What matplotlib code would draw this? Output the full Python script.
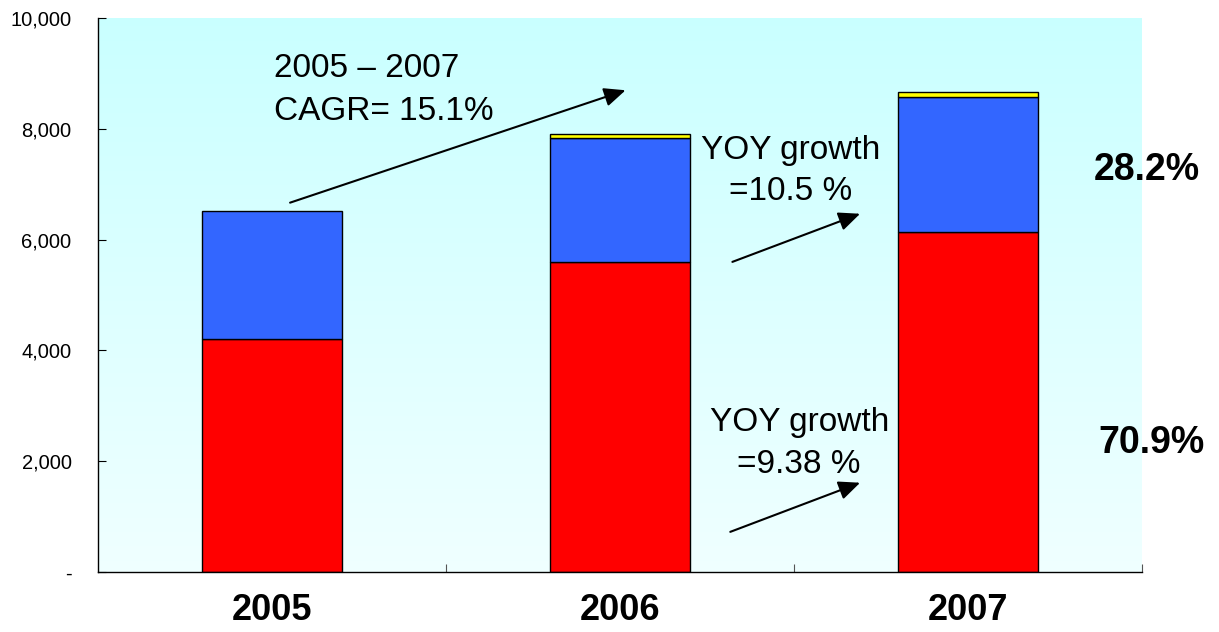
import matplotlib
matplotlib.use('Agg')
import matplotlib.pyplot as plt
import numpy as np
from matplotlib.ticker import FuncFormatter

plt.rcParams['font.family'] = ['Liberation Sans', 'DejaVu Sans']

years = ['2005', '2006', '2007']
red_vals = [4200, 5600, 6140]
blue_vals = [2320, 2240, 2440]
yellow_vals = [0, 60, 90]

cagr_text = '2005 \u2013 2007\nCAGR= 15.1%'
yoy_top_text = 'YOY growth\n=10.5 %'
yoy_bottom_text = 'YOY growth\n=9.38 %'
share_labels = ['28.2%', '70.9%']

fig = plt.figure(figsize=(12.19, 6.32), dpi=100)
ax = fig.add_axes([0.0804, 0.0949, 0.8564, 0.8766])

# light cyan gradient background
grad = np.linspace(0, 1, 256).reshape(-1, 1)
top_col = np.array([0.79, 1.0, 1.0])
bot_col = np.array([0.94, 1.0, 1.0])
img = top_col + (bot_col - top_col) * grad
ax.imshow(img[:, None, :].repeat(2, axis=1), extent=[0, 1, 0, 1],
          transform=ax.transAxes, aspect='auto', zorder=0)

x = np.arange(len(years))
w = 0.40
red = np.array(red_vals)
blue = np.array(blue_vals)
yellow = np.array(yellow_vals)
ax.bar(x, red, w, color='#FF0000', edgecolor='black', linewidth=1, zorder=2)
ax.bar(x, blue, w, bottom=red, color='#3366FF', edgecolor='black', linewidth=1, zorder=2)
ax.bar(x[yellow > 0], yellow[yellow > 0], w, bottom=(red + blue)[yellow > 0],
       color='#FFFF00', edgecolor='black', linewidth=1, zorder=2)

ax.set_xlim(-0.5, 2.5)
ax.set_ylim(0, 10000)
ax.set_yticks(range(0, 10001, 2000))
ax.yaxis.set_major_formatter(FuncFormatter(lambda v, p: '-' if v == 0 else f'{int(v):,}'))
ax.tick_params(axis='y', direction='in', length=6, width=0.8, pad=19, labelsize=14.5)

ax.set_xticks(x)
ax.set_xticklabels(years, fontsize=26, fontweight='bold')
ax.set_xticks([0.5, 1.5, 2.5], minor=True)
ax.tick_params(axis='x', which='major', length=0, pad=15)
ax.tick_params(axis='x', which='minor', direction='in', length=6, width=0.8, color='#555555')

for s in ['top', 'right']:
    ax.spines[s].set_visible(False)
for s in ['left', 'bottom']:
    ax.spines[s].set_linewidth(1)

arrow = dict(arrowstyle='-|>,head_length=0.5,head_width=0.22', color='black', lw=1.5,
             mutation_scale=26, shrinkA=0, shrinkB=0)

ax.text(0.006, 8700, cagr_text, ha='left', va='center', fontsize=24, linespacing=1.5, zorder=5)
ax.annotate('', xy=(1.016, 8696), xytext=(0.052, 6667), arrowprops=arrow, zorder=5)

ax.text(1.489, 7240, yoy_top_text, ha='center', va='center', multialignment='center',
        fontsize=24, linespacing=1.45, zorder=5)
ax.annotate('', xy=(1.690, 6467), xytext=(1.323, 5598), arrowprops=arrow, zorder=5)

ax.text(1.515, 2320, yoy_bottom_text, ha='center', va='center', multialignment='center',
        fontsize=24, linespacing=1.45, zorder=5)
ax.annotate('', xy=(1.690, 1612), xytext=(1.317, 725), arrowprops=arrow, zorder=5)

ax.text(2.514, 7250, share_labels[0], ha='center', va='center', fontsize=27,
        fontweight='bold', clip_on=False, zorder=5)
ax.text(2.528, 2330, share_labels[1], ha='center', va='center', fontsize=27,
        fontweight='bold', clip_on=False, zorder=5)

fig.savefig('out.png', dpi=100)
